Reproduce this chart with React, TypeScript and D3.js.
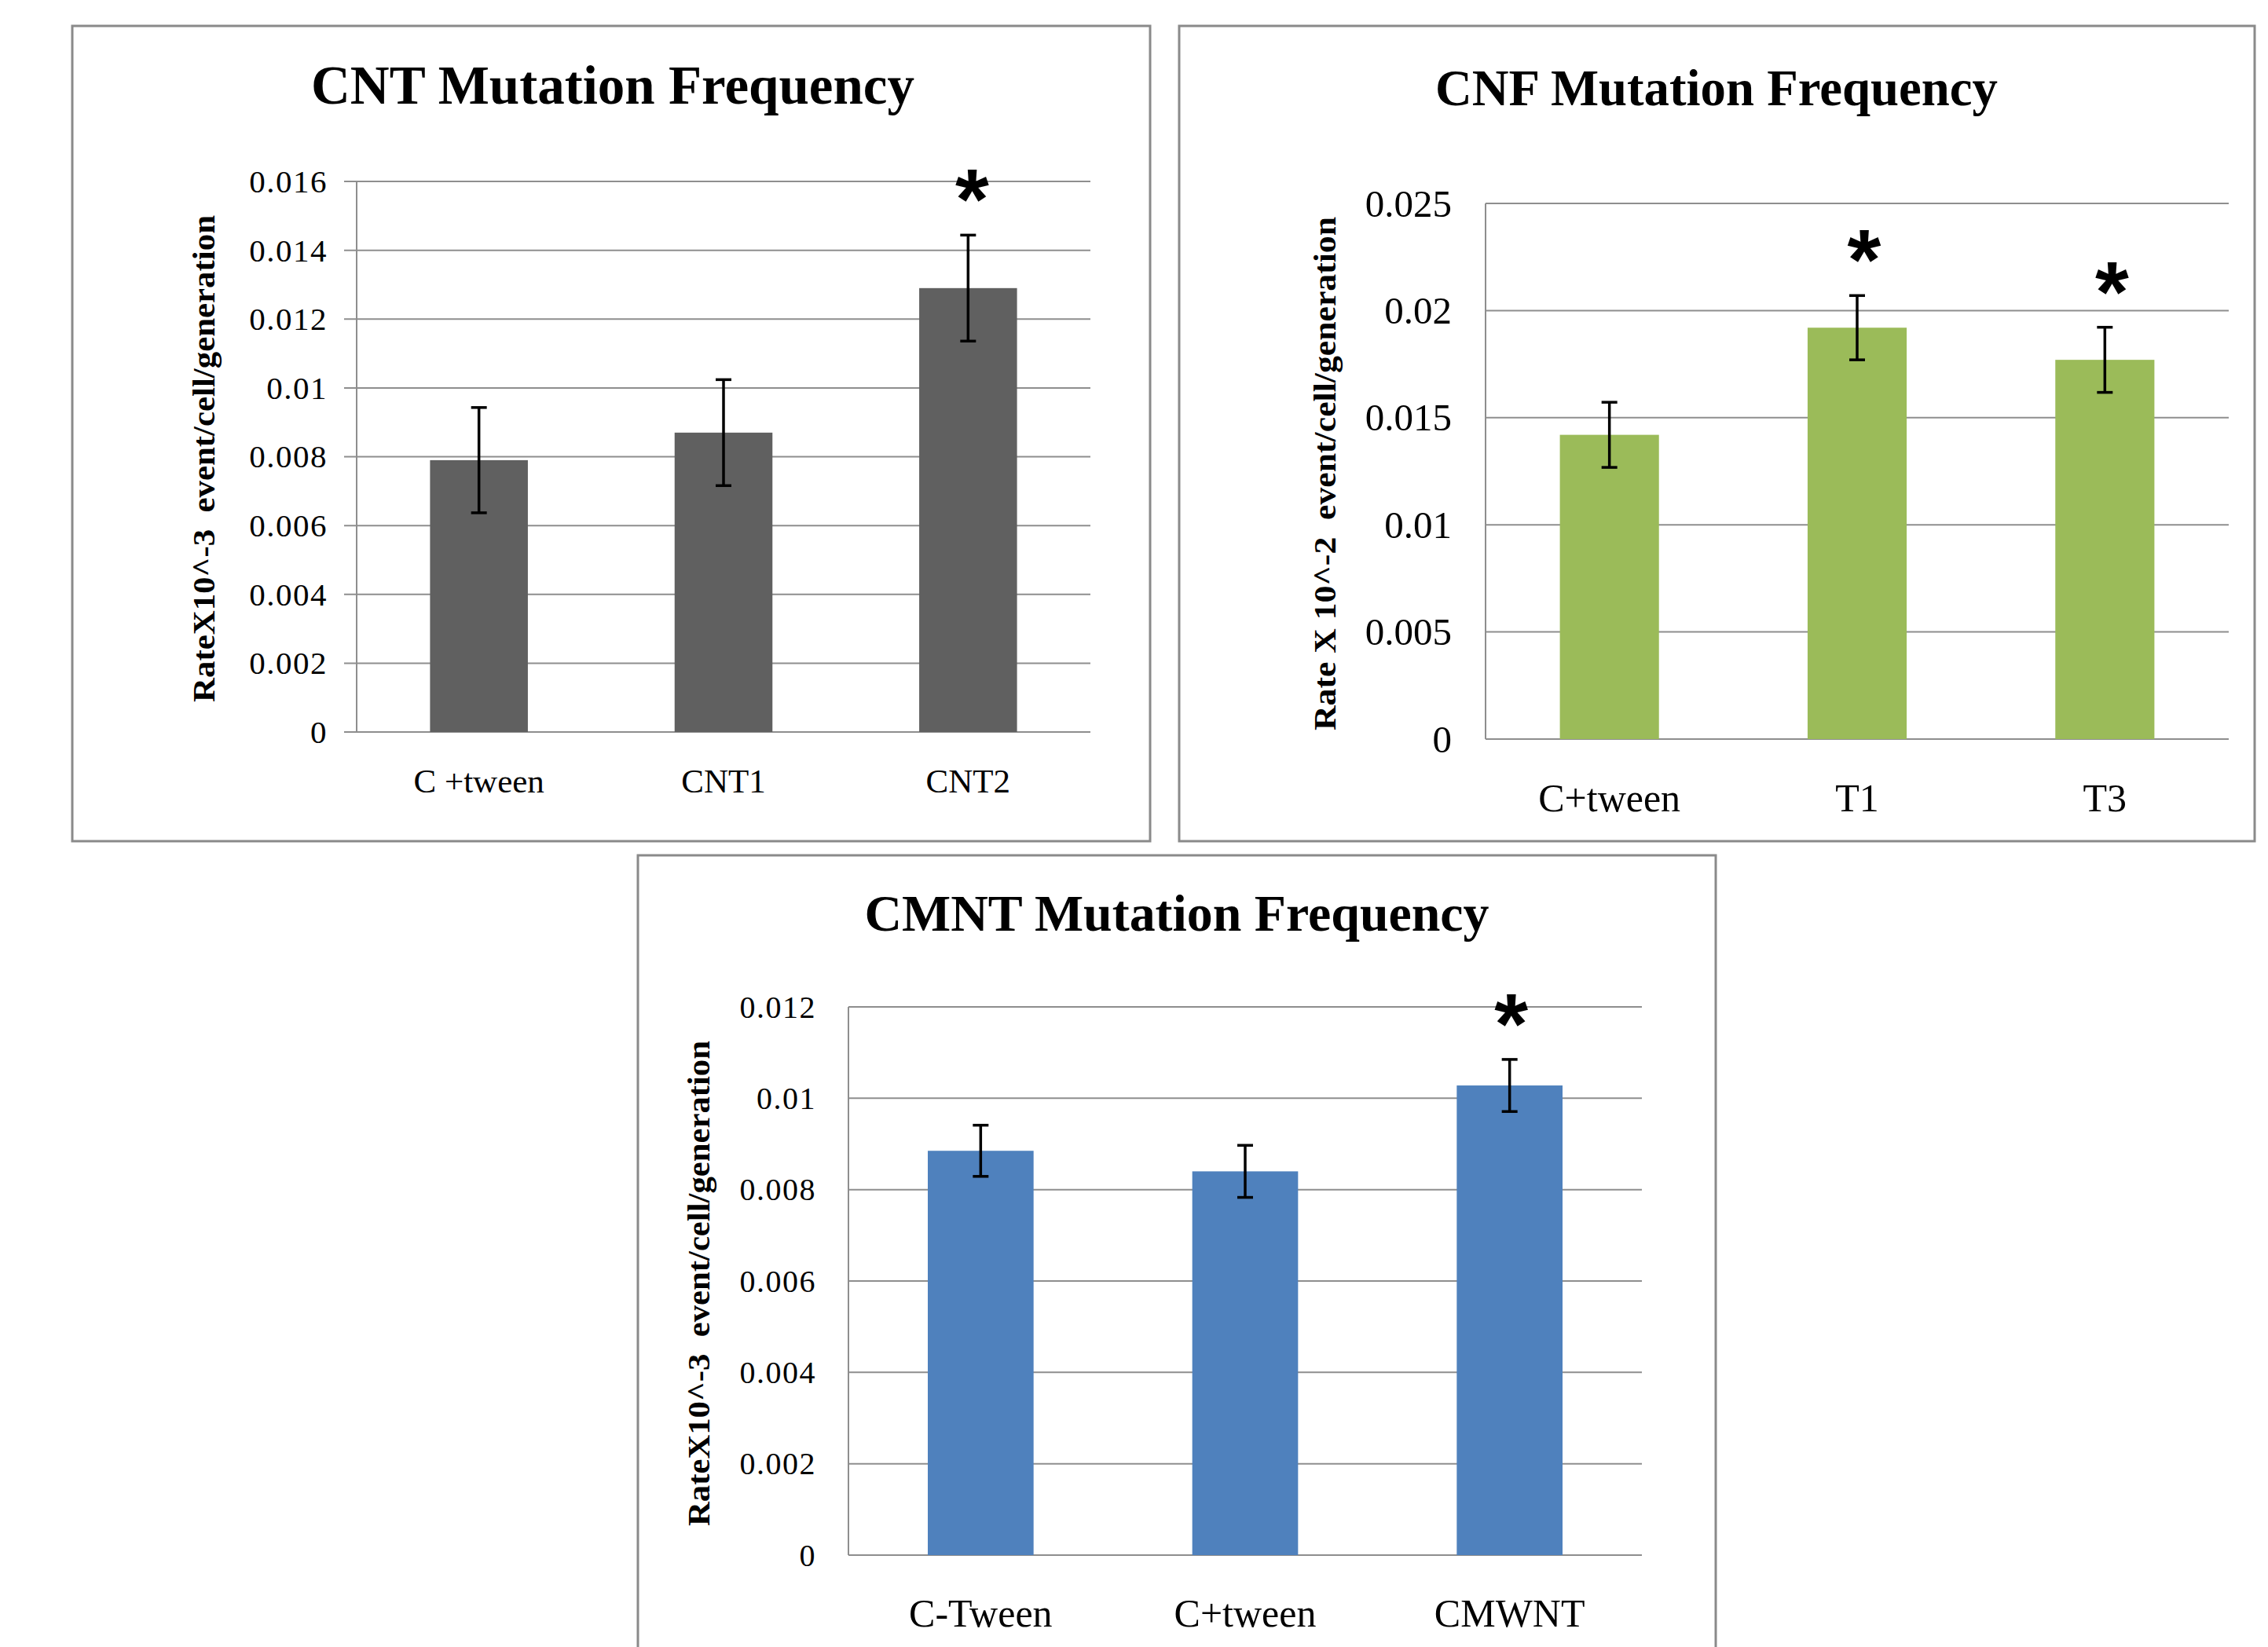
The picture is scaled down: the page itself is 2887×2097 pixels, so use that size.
import { useRef, useEffect } from 'react';
import * as d3 from 'd3';

// CNT panel
const CNT_CATS = ['C +tween', 'CNT1', 'CNT2'];
const CNT_VALUES = [0.0079, 0.0087, 0.0129];
const CNT_ERRORS = [0.00153, 0.00154, 0.00154];
const CNT_STARS = [false, false, true];
const CNT_TICKS = [0, 0.002, 0.004, 0.006, 0.008, 0.01, 0.012, 0.014, 0.016];
const CNT_TICK_LABELS = ['0', '0.002', '0.004', '0.006', '0.008', '0.01', '0.012', '0.014', '0.016'];

// CNF panel
const CNF_CATS = ['C+tween', 'T1', 'T3'];
const CNF_VALUES = [0.0142, 0.0192, 0.0177];
const CNF_ERRORS = [0.00152, 0.0015, 0.00152];
const CNF_STARS = [false, true, true];
const CNF_TICKS = [0, 0.005, 0.01, 0.015, 0.02, 0.025];
const CNF_TICK_LABELS = ['0', '0.005', '0.01', '0.015', '0.02', '0.025'];

// CMNT panel
const CMNT_CATS = ['C-Tween', 'C+tween', 'CMWNT'];
const CMNT_VALUES = [0.00885, 0.0084, 0.01028];
const CMNT_ERRORS = [0.00056, 0.00057, 0.00057];
const CMNT_STARS = [false, false, true];
const CMNT_TICKS = [0, 0.002, 0.004, 0.006, 0.008, 0.01, 0.012];
const CMNT_TICK_LABELS = ['0', '0.002', '0.004', '0.006', '0.008', '0.01', '0.012'];

const SERIF = "'Liberation Serif', 'Times New Roman', serif";
const GRID = '#8e8e8e';

const PANELS = [
  {
    title: 'CNT Mutation Frequency', titleX: 780, titleY: 132, titleSize: 69, titleLen: null,
    yTitle: 'RateX10^-3  event/cell/generation', yTitleX: 273, yTitleY: 584, yTitleLen: 620,
    frame: [92, 33, 1464, 1071],
    left: 454, right: 1388, top: 231, bottom: 932, tickOut: 16,
    tickSize: 41, tickSpacing: 1.5, tickRight: 417,
    labelSize: 43, labelY: 1009,
    color: '#606060',
    cats: CNT_CATS, values: CNT_VALUES, errors: CNT_ERRORS, stars: CNT_STARS,
    ticks: CNT_TICKS, tickLabels: CNT_TICK_LABELS, starDx: 5,
  },
  {
    title: 'CNF Mutation Frequency', titleX: 2185, titleY: 134, titleSize: 66, titleLen: 716,
    yTitle: 'Rate X 10^-2  event/cell/generation', yTitleX: 1700, yTitleY: 603, yTitleLen: 654,
    frame: [1501, 33, 2870, 1071],
    left: 1891, right: 2837, top: 259, bottom: 941, tickOut: 0,
    tickSize: 49, tickSpacing: 0, tickRight: 1848,
    labelSize: 50, labelY: 1033,
    color: '#9bbb59',
    cats: CNF_CATS, values: CNF_VALUES, errors: CNF_ERRORS, stars: CNF_STARS,
    ticks: CNF_TICKS, tickLabels: CNF_TICK_LABELS, starDx: 9,
  },
  {
    title: 'CMNT Mutation Frequency', titleX: 1498, titleY: 1185, titleSize: 66, titleLen: 795,
    yTitle: 'RateX10^-3  event/cell/generation', yTitleX: 903, yTitleY: 1634, yTitleLen: 618,
    frame: [812, 1089, 2184, 2120],
    left: 1080, right: 2090, top: 1282, bottom: 1980, tickOut: 0,
    tickSize: 40, tickSpacing: 1.5, tickRight: 1039,
    labelSize: 50, labelY: 2071,
    color: '#4f81bd',
    cats: CMNT_CATS, values: CMNT_VALUES, errors: CMNT_ERRORS, stars: CMNT_STARS,
    ticks: CMNT_TICKS, tickLabels: CMNT_TICK_LABELS, starDx: 2,
  },
];

function drawPanel(g: any, p: any) {
  const x = d3.scaleBand().domain(p.cats).range([p.left, p.right]).paddingInner(0.6).paddingOuter(0.3);
  const y = d3.scaleLinear().domain([0, p.ticks[p.ticks.length - 1]]).range([p.bottom, p.top]);
  const rows = p.cats.map((c: string, i: number) => ({ cat: c, v: p.values[i], e: p.errors[i], star: p.stars[i] }));
  const cx = (d: any) => (x(d.cat) as number) + x.bandwidth() / 2;

  const [x0, y0, x1, y1] = p.frame;
  g.append('rect')
    .attr('x', x0).attr('y', y0).attr('width', x1 - x0).attr('height', y1 - y0)
    .attr('fill', '#fff').attr('stroke', '#8a8a8a').attr('stroke-width', 3);

  // Title
  const t = g.append('text')
    .attr('x', p.titleX).attr('y', p.titleY)
    .attr('text-anchor', 'middle').attr('font-family', SERIF)
    .attr('font-weight', 'bold').attr('font-size', p.titleSize)
    .text(p.title);
  if (p.titleLen) t.attr('textLength', p.titleLen).attr('lengthAdjust', 'spacingAndGlyphs');

  // Grid lines
  g.selectAll('.grid').data(p.ticks).enter().append('line')
    .attr('x1', p.left - p.tickOut).attr('x2', p.right)
    .attr('y1', (d: number) => y(d)).attr('y2', (d: number) => y(d))
    .attr('stroke', GRID).attr('stroke-width', 2);

  // Y axis line
  g.append('line')
    .attr('x1', p.left).attr('x2', p.left).attr('y1', y(p.ticks[p.ticks.length - 1])).attr('y2', p.bottom)
    .attr('stroke', GRID).attr('stroke-width', 2);

  // Tick labels
  g.selectAll('.tl').data(p.ticks).enter().append('text')
    .attr('x', p.tickRight).attr('y', (d: number) => y(d))
    .attr('dy', '0.34em').attr('text-anchor', 'end')
    .attr('font-family', SERIF).attr('font-size', p.tickSize)
    .attr('letter-spacing', p.tickSpacing)
    .text((_: number, i: number) => p.tickLabels[i]);

  // Bars
  g.selectAll('.bar').data(rows).enter().append('rect')
    .attr('x', (d: any) => x(d.cat)).attr('width', x.bandwidth())
    .attr('y', (d: any) => y(d.v)).attr('height', (d: any) => p.bottom - y(d.v))
    .attr('fill', p.color);

  // Error bars
  const eb = g.selectAll('.eb').data(rows).enter().append('g');
  eb.append('line')
    .attr('x1', cx).attr('x2', cx)
    .attr('y1', (d: any) => y(d.v + d.e)).attr('y2', (d: any) => y(d.v - d.e))
    .attr('stroke', '#000').attr('stroke-width', 3.5);
  [1, -1].forEach(s => {
    eb.append('line')
      .attr('x1', (d: any) => cx(d) - 10).attr('x2', (d: any) => cx(d) + 10)
      .attr('y1', (d: any) => y(d.v + s * d.e)).attr('y2', (d: any) => y(d.v + s * d.e))
      .attr('stroke', '#000').attr('stroke-width', 3.5);
  });

  // Significance stars
  g.selectAll('.star').data(rows.filter((d: any) => d.star)).enter().append('text')
    .attr('x', (d: any) => cx(d) + p.starDx)
    .attr('y', (d: any) => y(d.v + d.e) - 8)
    .attr('text-anchor', 'middle')
    .attr('font-family', "'Liberation Sans', Arial, sans-serif")
    .attr('font-weight', 'bold').attr('font-size', 110)
    .text('*');

  // Category labels
  g.selectAll('.cl').data(rows).enter().append('text')
    .attr('x', cx).attr('y', p.labelY)
    .attr('text-anchor', 'middle').attr('font-family', SERIF).attr('font-size', p.labelSize)
    .text((d: any) => d.cat);

  // Y axis title
  g.append('text')
    .attr('transform', `translate(${p.yTitleX},${p.yTitleY}) rotate(-90)`)
    .attr('text-anchor', 'middle').attr('font-family', SERIF)
    .attr('font-weight', 'bold').attr('font-size', 41)
    .attr('textLength', p.yTitleLen).attr('lengthAdjust', 'spacingAndGlyphs')
    .style('white-space', 'pre')
    .text(p.yTitle);
}

export default function App() {
  const svgRef = useRef<SVGSVGElement>(null);

  useEffect(() => {
    if (!svgRef.current) return;
    const svg = d3.select(svgRef.current);
    svg.selectAll('*').remove();
    svg.append('rect').attr('width', 2887).attr('height', 2097).attr('fill', '#fff');
    PANELS.forEach(p => drawPanel(svg.append('g'), p));
  }, []);

  return (
    <svg
      ref={svgRef}
      width={2887}
      height={2097}
      style={{ position: 'absolute', left: 0, top: 0, display: 'block' }}
    />
  );
}
